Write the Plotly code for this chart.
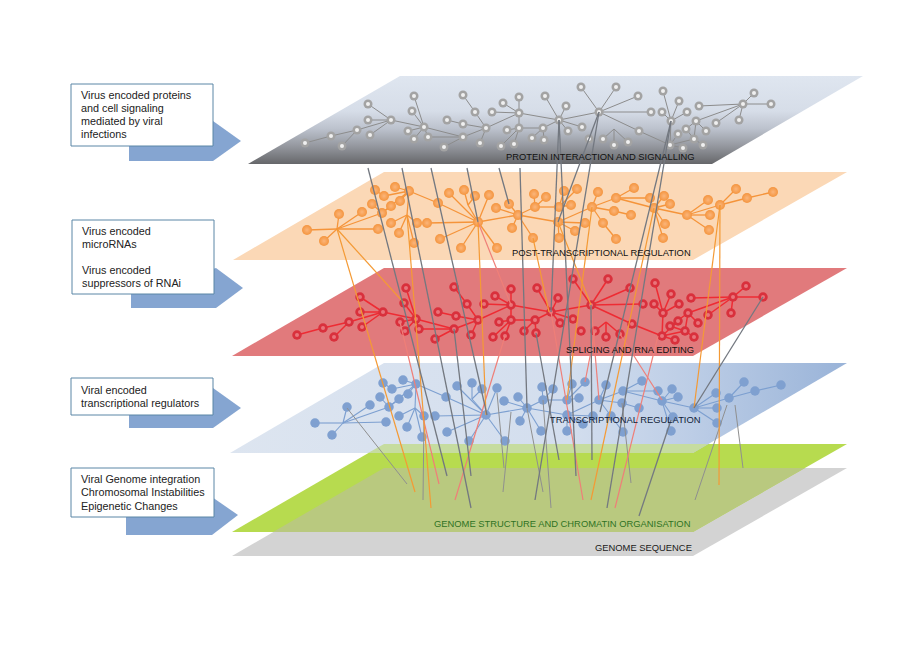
import plotly.graph_objects as go

# ---------- planes (corner points) ----------
PLANE_GRAY_X = [400, 863, 712, 248]
PLANE_GRAY_Y = [76, 76, 164, 164]
PLANE_ORANGE_X = [384, 847, 693, 233]
PLANE_ORANGE_Y = [172, 172, 260, 260]
PLANE_RED_X = [384, 847, 693, 232]
PLANE_RED_Y = [268, 268, 356, 356]
PLANE_BLUE_X = [384, 847, 693, 230]
PLANE_BLUE_Y = [363, 363, 453, 453]
PLANE_GREEN_X = [384, 847, 693, 232]
PLANE_GREEN_Y = [444, 444, 532, 532]
PLANE_SEQ_X = [384, 847, 693, 232]
PLANE_SEQ_Y = [468, 468, 556, 556]
OVERLAP_GREEN_SEQ_X = [384, 805, 693, 273]
OVERLAP_GREEN_SEQ_Y = [468, 468, 532, 532]
OVERLAP_BLUE_GREEN_X = [384, 708, 693, 368]
OVERLAP_BLUE_GREEN_Y = [444, 444, 453, 453]

# ---------- network A: protein + splicing layers ----------
GRAY_NODES = [(305,143),(331,136),(342,146),(357,130),(370,135),(368,120),(368,104),(391,120),
 (414,96),(412,111),(408,131),(424,127),(414,139),(428,137),(447,120),(463,124),(463,95),(475,112),
 (486,128),(463,137),(444,147),(480,143),(492,112),(503,103),(519,97),(519,113),(519,128),(507,130),
 (501,146),(514,144),(532,138),(543,128),(544,140),(545,96),(559,120),(566,106),(568,131),(582,127),
 (581,87),(616,87),(638,96),(599,112),(651,112),(662,112),(639,131),(589,139),(603,139),(614,145),
 (628,142),(663,91),(679,101),(687,112),(671,121),(670,145),(678,134),(686,129),(696,121),(699,106),
 (716,123),(706,131),(694,139),(703,145),(683,148),(739,120),(743,104),(754,93),(771,104),(614,129)]
RED_NODES = [(297,335),(323,328),(334,337),(349,322),(362,327),(360,312),(360,297),(383,312),
 (406,288),(404,303),(400,322),(416,319),(405,331),(419,329),(438,312),(456,316),(454,287),(467,304),
 (478,320),(454,329),(435,339),(471,335),(484,304),(495,296),(511,289),(511,305),(511,320),(499,322),
 (493,337),(505,336),(524,331),(535,320),(536,333),(537,288),(551,312),(558,298),(560,323),(573,319),
 (573,279),(608,279),(630,288),(591,305),(643,304),(654,304),(632,324),(581,331),(595,331),(606,337),
 (620,334),(655,283),(671,294),(679,304),(663,313),(662,336),(678,321),(670,326),(688,313),(691,298),
 (708,315),(698,323),(685,331),(694,337),(675,340),(731,313),(733,297),(746,286),(763,297),(606,322)]
EDGES_A = [(0,1),(1,3),(2,3),(3,7),(4,7),(5,7),(6,7),(7,11),(8,11),(9,11),(10,11),(12,11),(11,13),
 (11,19),(13,19),(19,20),(19,18),(14,15),(15,18),(16,17),(17,18),(18,21),(18,25),(22,25),(23,25),(24,25),
 (25,26),(26,27),(26,28),(26,29),(26,31),(31,30),(31,32),(25,34),(33,34),(34,35),(34,31),(34,36),(34,37),
 (34,41),(38,41),(39,41),(40,41),(41,42),(41,44),(44,53),(43,52),(49,52),(50,52),(51,52),(52,53),(53,54),
 (53,60),(53,62),(60,55),(60,61),(56,55),(56,59),(56,60),(56,64),(57,64),(58,64),(63,64),(64,65),(64,66),
 (67,46),(67,47),(67,48)]
JUNCTIONS_A = {67}

# ---------- network B: post-transcriptional + transcriptional layers ----------
ORANGE_NODES = [(307,230),(324,241),(339,214),(362,212),(378,229),(382,213),(372,204),(375,190),(384,196),
 (395,187),(409,191),(391,206),(400,201),(391,223),(399,233),(414,243),(417,223),(427,223),(438,203),
 (440,239),(461,248),(478,222),(497,248),(449,193),(464,190),(475,196),(489,195),(496,208),(509,204),
 (518,215),(512,228),(535,207),(534,194),(546,197),(533,238),(564,191),(577,189),(559,207),(571,205),
 (558,222),(585,223),(575,231),(559,238),(592,207),(598,192),(616,198),(634,188),(614,211),(631,215),
 (603,223),(616,239),(650,198),(664,196),(654,208),(670,204),(665,224),(663,238),(687,215),(708,200),
 (710,215),(709,230),(720,205),(736,189),(747,198),(773,192),(337,229),(407,215),(468,205)]
BLUE_NODES = [(315,423),(332,435),(347,407),(370,405),(386,422),(389,407),(380,397),(383,383),(392,389),
 (403,380),(416,384),(399,399),(408,394),(399,416),(407,427),(422,437),(424,416),(435,416),(446,397),
 (447,432),(469,441),(486,415),(505,441),(457,386),(472,383),(482,389),(497,388),(504,401),(518,397),
 (527,408),(520,421),(543,400),(542,387),(553,389),(541,431),(572,384),(585,382),(567,400),(579,398),
 (567,415),(593,416),(583,424),(567,431),(599,400),(606,385),(623,391),(642,381),(622,403),(639,408),
 (611,416),(623,432),(658,391),(672,389),(662,401),(678,397),(673,417),(671,431),(694,408),(716,393),
 (717,408),(717,423),(729,398),(744,382),(755,391),(781,385),(343,423),(415,408),(472,399)]
EDGES_B = [(0,65),(1,65),(2,65),(3,65),(4,65),(5,65),(6,5),(5,10),(7,8),(8,10),(9,10),(11,5),(12,10),
 (13,66),(14,66),(15,66),(16,66),(10,66),(10,18),(18,21),(17,21),(19,21),(20,21),(22,21),(23,21),
 (24,67),(25,67),(67,21),(26,21),(21,29),(27,29),(28,29),(30,29),(34,29),(29,31),(31,32),(31,33),(31,37),
 (37,35),(37,36),(38,37),(29,39),(39,40),(39,41),(39,42),(39,43),(43,44),(43,45),(43,47),(43,49),(45,46),
 (47,48),(49,50),(45,51),(45,53),(53,52),(53,54),(53,55),(53,56),(53,57),(57,58),(57,59),(57,60),(57,61),
 (61,62),(61,63),(63,64)]
JUNCTIONS_B = {65, 66, 67}

# ---------- links between the layers ----------
LINKS_DARK = [((368,168),(447,476)),((402,168),(471,508)),((431,168),(487,415)),((467,168),(478,222)),
 ((499,168),(509,204)),((520,168),(527,408)),((559,120),(551,312)),((559,120),(576,476)),((599,112),(558,222)),
 ((599,112),(535,500)),((671,121),(600,412)),((671,121),(607,508)),((454,329),(471,476)),((536,333),(559,460)),
 ((591,305),(592,460)),((763,297),(694,408)),((671,420),(639,516))]
LINKS_LIGHT = [((347,408),(407,484)),((424,416),(423,500)),((497,393),(504,468)),((511,412),(503,492)),
 ((527,408),(543,492)),((543,400),(551,508)),((622,403),(631,483)),((727,405),(695,500)),((735,405),(743,468))]
LINKS_ORANGE = [((337,229),(415,492)),((337,229),(404,303)),((407,215),(431,508)),((478,222),(486,415)),
 ((533,238),(549,312)),((592,207),(567,400)),((558,222),(591,305)),((654,208),(591,500)),
 ((720,205),(694,408)),((720,205),(719,485))]
LINKS_PINK = [((478,222),(511,305)),((505,336),(455,500)),((400,322),(439,484)),((551,312),(583,500)),
 ((595,331),(585,382)),((591,305),(599,400)),((620,334),(662,400)),((658,336),(615,508))]

# ---------- text ----------
LAYER_LABELS = ["PROTEIN INTERACTION AND SIGNALLING", "POST-TRANSCRIPTIONAL REGULATION", "SPLICING AND RNA EDITING",
                "TRANSCRIPTIONAL REGULATION", "GENOME STRUCTURE AND CHROMATIN ORGANISATION", "GENOME SEQUENCE"]
LAYER_LABEL_X = [697, 693, 696, 703, 692, 694]
LAYER_LABEL_Y = [156, 252, 349, 419, 523, 547]
LAYER_LABEL_COLORS = ["#111111", "#111111", "#111111", "#101d38", "#2f7324", "#1a1a1a"]
BOX_LINES = [("Virus encoded proteins",79,95),("and cell signaling",79,108),("mediated by viral",79,121),("infections",79,134),
             ("Virus encoded",80,231),("microRNAs",80,244),("Virus encoded",80,270),("suppressors of RNAi",80,283),
             ("Viral encoded",79,390),("transcriptional regulators",79,403),
             ("Viral Genome integration",79,479),("Chromosomal Instabilities",79,492),("Epigenetic Changes",79,506)]
BOXES_X = [(71,213),(72,214),(71,213),(71,214)]
BOXES_Y = [(84,146),(220,294),(378,415),(468,517)]
ARROWS_X = [[129,129,213,241,213],[131,131,216,243,216],[129,129,213,241,213],[126,126,212,238,212]]
ARROWS_Y = [[146,161,161,141,121],[294,308,308,288,268],[415,428,428,408,388],[517,535,535,515,497]]

fig = go.Figure()

def poly(xs, ys, color, **kw):
    fig.add_trace(go.Scatter(x=xs + xs[:1], y=ys + ys[:1], mode="lines", fill="toself", fillcolor=color,
                             line=dict(width=0, color=color), hoverinfo="skip", showlegend=False, **kw))

def segs(segments, color, width):
    xs, ys = [], []
    for a, b in segments:
        xs += [a[0], b[0], None]
        ys += [a[1], b[1], None]
    fig.add_trace(go.Scatter(x=xs, y=ys, mode="lines", line=dict(color=color, width=width),
                             hoverinfo="skip", showlegend=False))

def network(nodes, edges, color, width):
    segs([(nodes[i], nodes[j]) for i, j in edges], color, width)

def dots(nodes, skip, size, color, **marker):
    pts = [p for i, p in enumerate(nodes) if i not in skip]
    fig.add_trace(go.Scatter(x=[p[0] for p in pts], y=[p[1] for p in pts], mode="markers",
                             marker=dict(size=size, color=color, line=dict(width=0), **marker),
                             hoverinfo="skip", showlegend=False))

# planes, bottom to top
poly(PLANE_SEQ_X, PLANE_SEQ_Y, "#d3d3d3")
poly(PLANE_GREEN_X, PLANE_GREEN_Y, "#b7db4f")
poly(OVERLAP_GREEN_SEQ_X, OVERLAP_GREEN_SEQ_Y, "#b9c97f")
poly(PLANE_BLUE_X, PLANE_BLUE_Y, "#dde5f0",
     fillgradient=dict(type="horizontal", start=230, stop=847,
                       colorscale=[[0, "#dde5f0"], [0.55, "#d3deee"], [0.75, "#bccde6"], [1, "#99b3d8"]]))
poly(OVERLAP_BLUE_GREEN_X, OVERLAP_BLUE_GREEN_Y, "#c6dc9f")
poly(PLANE_RED_X, PLANE_RED_Y, "#e17a7c")
poly(PLANE_ORANGE_X, PLANE_ORANGE_Y, "#fbd8b6")
poly(PLANE_GRAY_X, PLANE_GRAY_Y, "#dde5ef",
     fillgradient=dict(type="vertical", start=76, stop=164,
                       colorscale=[[0, "#dfe6f0"], [0.4, "#d6dde8"], [0.6, "#bcc2cd"], [0.8, "#94979e"], [1, "#66676a"]]))

# networks
network(BLUE_NODES, EDGES_B, "#7c9fd0", 1.1)
dots(BLUE_NODES, JUNCTIONS_B, 9.5, "#7fa0d0")
network(RED_NODES, EDGES_A, "#ee2b33", 1.5)
dots(RED_NODES, JUNCTIONS_A, 9.5, "#d9303c")
dots(RED_NODES, JUNCTIONS_A, 4, "#e9747b")
network(ORANGE_NODES, EDGES_B, "#f5943a", 1.3)
dots(ORANGE_NODES, JUNCTIONS_B, 10, "#f4953f", gradient=dict(type="radial", color="#fbb57a"))
network(GRAY_NODES, EDGES_A, "#8c8c8c", 1)
dots(GRAY_NODES, JUNCTIONS_A, 9, "#a3a3a3")
dots(GRAY_NODES, JUNCTIONS_A, 4, "#f0f0f0")

# links
segs(LINKS_LIGHT, "#8f8f8f", 1)
segs(LINKS_PINK, "#ef7f78", 1.2)
segs(LINKS_ORANGE, "#f49a35", 1.2)
segs(LINKS_DARK, "#737880", 1.3)

# side boxes and arrows
for ax, ay in zip(ARROWS_X, ARROWS_Y):
    poly(ax, ay, "#85a5d1")
for bx, by in zip(BOXES_X, BOXES_Y):
    fig.add_trace(go.Scatter(x=[bx[0], bx[1], bx[1], bx[0], bx[0]], y=[by[0], by[0], by[1], by[1], by[0]],
                             mode="lines", fill="toself", fillcolor="white", line=dict(color="#5b86a6", width=1),
                             hoverinfo="skip", showlegend=False))

ann = []
for t, x, y, c in zip(LAYER_LABELS, LAYER_LABEL_X, LAYER_LABEL_Y, LAYER_LABEL_COLORS):
    ann.append(dict(x=x, y=y, text=t, xanchor="right", yanchor="middle", showarrow=False,
                    font=dict(family="Liberation Sans", size=9.4, color=c)))
for t, x, y in BOX_LINES:
    ann.append(dict(x=x, y=y, text=t, xanchor="left", yanchor="middle", showarrow=False,
                    font=dict(family="Liberation Sans", size=10.8, color="#222222")))

# the page adds an 8 px margin at the top and left, so the figure is 8 px smaller and its axes start at 8
fig.update_layout(width=916, height=648, autosize=False, margin=dict(l=0, r=0, t=0, b=0),
                  paper_bgcolor="white", plot_bgcolor="white", showlegend=False, annotations=ann,
                  xaxis=dict(range=[8, 924], visible=False, fixedrange=True),
                  yaxis=dict(range=[656, 8], visible=False, fixedrange=True))
fig.write_html("out.html")
